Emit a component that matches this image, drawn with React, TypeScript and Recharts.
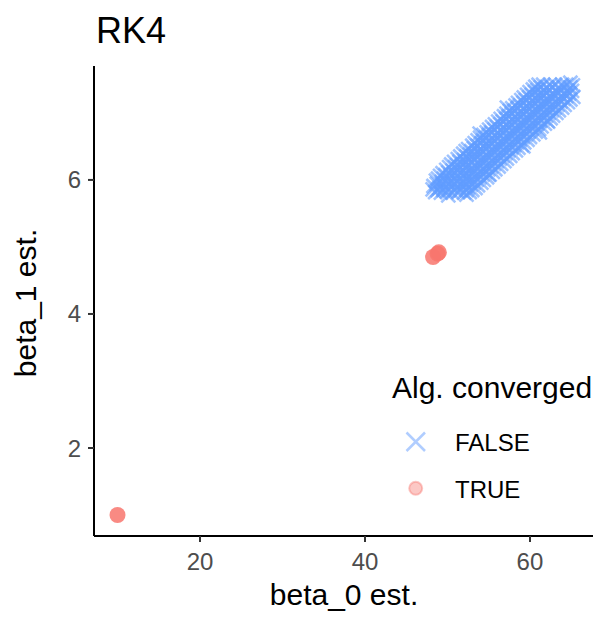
import React from 'react';
import { ScatterChart, Scatter, XAxis, YAxis } from 'recharts';

// estimates for runs that did not converge (beta_0, beta_1)
const notConverged: [number, number][] = [
  [48.5, 5.82], [48.3, 5.91], [48.6, 5.99],
  [49.2, 5.81], [49.0, 5.88], [49.3, 5.97], [49.1, 6.06],
  [49.9, 5.83], [49.7, 5.9], [49.95, 5.99], [49.75, 6.07], [49.85, 6.15],
  [50.6, 5.81], [50.4, 5.9], [50.55, 5.98], [50.35, 6.07], [50.6, 6.14], [50.45, 6.23],
  [51.3, 5.82], [51.1, 5.89], [51.25, 5.98], [51.05, 6.06], [51.3, 6.15], [51.15, 6.22], [51.25, 6.31],
  [52.0, 5.81], [51.8, 5.9], [52.05, 5.97], [51.85, 6.07], [51.95, 6.14], [51.8, 6.23], [52.0, 6.3], [51.9, 6.39],
  [52.7, 5.82], [52.5, 5.89], [52.65, 5.98], [52.55, 6.05], [52.75, 6.14], [52.45, 6.22], [52.6, 6.31], [52.7, 6.38], [52.5, 6.46],
  [53.4, 5.88], [53.2, 5.96], [53.35, 6.05], [53.15, 6.13], [53.4, 6.21], [53.25, 6.3], [53.35, 6.38], [53.2, 6.47], [53.3, 6.55],
  [54.1, 5.96], [53.9, 6.04], [54.05, 6.13], [53.95, 6.2], [54.15, 6.3], [53.85, 6.38], [54.0, 6.46], [54.1, 6.55], [53.95, 6.63],
  [54.8, 6.04], [54.6, 6.12], [54.75, 6.21], [54.55, 6.29], [54.8, 6.37], [54.65, 6.46], [54.7, 6.54], [54.6, 6.63], [54.75, 6.71],
  [55.5, 6.12], [55.3, 6.2], [55.45, 6.29], [55.25, 6.37], [55.5, 6.45], [55.35, 6.54], [55.45, 6.62], [55.3, 6.71], [55.4, 6.79],
  [56.2, 6.2], [56.0, 6.28], [56.15, 6.37], [55.95, 6.45], [56.2, 6.53], [56.05, 6.62], [56.1, 6.7], [56.0, 6.79], [56.15, 6.87],
  [56.9, 6.28], [56.7, 6.36], [56.85, 6.45], [56.65, 6.53], [56.9, 6.61], [56.75, 6.7], [56.8, 6.78], [56.7, 6.87], [56.85, 6.95],
  [57.6, 6.36], [57.4, 6.44], [57.55, 6.53], [57.35, 6.61], [57.6, 6.69], [57.45, 6.78], [57.5, 6.86], [57.4, 6.95], [57.55, 7.03],
  [58.3, 6.44], [58.1, 6.52], [58.25, 6.61], [58.05, 6.69], [58.3, 6.77], [58.15, 6.86], [58.2, 6.94], [58.1, 7.03], [58.25, 7.11],
  [59.0, 6.52], [58.8, 6.6], [58.95, 6.69], [58.75, 6.77], [59.0, 6.85], [58.85, 6.94], [58.9, 7.02], [58.8, 7.11], [58.95, 7.19],
  [59.7, 6.6], [59.5, 6.68], [59.65, 6.77], [59.45, 6.85], [59.7, 6.93], [59.55, 7.02], [59.6, 7.1], [59.5, 7.19], [59.65, 7.27],
  [60.4, 6.68], [60.2, 6.76], [60.35, 6.85], [60.15, 6.93], [60.4, 7.01], [60.25, 7.1], [60.3, 7.18], [60.2, 7.27], [60.35, 7.35],
  [61.1, 6.76], [60.9, 6.84], [61.05, 6.93], [60.85, 7.01], [61.1, 7.09], [60.95, 7.18], [61.0, 7.26], [60.9, 7.34], [61.05, 7.42],
  [61.8, 6.84], [61.6, 6.92], [61.75, 7.01], [61.55, 7.09], [61.8, 7.17], [61.65, 7.25], [61.7, 7.34], [61.6, 7.42],
  [62.5, 6.92], [62.3, 7.0], [62.45, 7.09], [62.25, 7.17], [62.5, 7.25], [62.35, 7.34], [62.4, 7.42],
  [63.2, 7.0], [63.0, 7.08], [63.15, 7.17], [62.95, 7.25], [63.2, 7.33], [63.05, 7.42],
  [63.9, 7.08], [63.7, 7.17], [63.85, 7.25], [63.65, 7.34], [63.9, 7.42],
  [64.6, 7.16], [64.4, 7.25], [64.55, 7.33], [64.4, 7.42],
  [65.25, 7.24], [65.1, 7.33], [65.2, 7.41],
  // second, staggered batch of runs
  [48.8, 5.85], [48.7, 5.94], [48.85, 6.02],
  [49.5, 5.85], [49.35, 5.94], [49.55, 6.02], [49.4, 6.1],
  [50.2, 5.85], [50.05, 5.94], [50.25, 6.02], [50.1, 6.11], [50.2, 6.19],
  [50.9, 5.85], [50.75, 5.94], [50.95, 6.02], [50.8, 6.1], [50.9, 6.19], [50.8, 6.27],
  [51.6, 5.85], [51.45, 5.94], [51.65, 6.02], [51.5, 6.1], [51.6, 6.19], [51.45, 6.27], [51.55, 6.35],
  [52.3, 5.85], [52.15, 5.94], [52.35, 6.02], [52.2, 6.1], [52.3, 6.19], [52.15, 6.27], [52.3, 6.35], [52.2, 6.43],
  [53.0, 5.85], [52.85, 5.93], [53.05, 6.01], [52.9, 6.09], [53.0, 6.18], [52.85, 6.26], [53.0, 6.35], [52.9, 6.43], [53.0, 6.51],
  [53.7, 5.92], [53.55, 6.0], [53.75, 6.09], [53.6, 6.17], [53.7, 6.26], [53.55, 6.34], [53.7, 6.43], [53.6, 6.51], [53.65, 6.59],
  [54.4, 6.0], [54.25, 6.08], [54.45, 6.17], [54.3, 6.25], [54.4, 6.34], [54.25, 6.42], [54.4, 6.51], [54.3, 6.59], [54.35, 6.67],
  [55.1, 6.08], [54.95, 6.16], [55.15, 6.25], [55.0, 6.33], [55.1, 6.42], [54.95, 6.5], [55.1, 6.59], [55.0, 6.67], [55.05, 6.75],
  [55.8, 6.16], [55.65, 6.24], [55.85, 6.33], [55.7, 6.41], [55.8, 6.5], [55.65, 6.58], [55.8, 6.67], [55.7, 6.75], [55.75, 6.83],
  [56.5, 6.24], [56.35, 6.32], [56.55, 6.41], [56.4, 6.49], [56.5, 6.58], [56.35, 6.66], [56.5, 6.75], [56.4, 6.83], [56.45, 6.91],
  [57.2, 6.32], [57.05, 6.4], [57.25, 6.49], [57.1, 6.57], [57.2, 6.66], [57.05, 6.74], [57.2, 6.83], [57.1, 6.91], [57.15, 6.99],
  [57.9, 6.4], [57.75, 6.48], [57.95, 6.57], [57.8, 6.65], [57.9, 6.74], [57.75, 6.82], [57.9, 6.91], [57.8, 6.99], [57.85, 7.07],
  [58.6, 6.48], [58.45, 6.56], [58.65, 6.65], [58.5, 6.73], [58.6, 6.82], [58.45, 6.9], [58.6, 6.99], [58.5, 7.07], [58.55, 7.15],
  [59.3, 6.56], [59.15, 6.64], [59.35, 6.73], [59.2, 6.81], [59.3, 6.9], [59.15, 6.98], [59.3, 7.07], [59.2, 7.15], [59.25, 7.23],
  [60.0, 6.64], [59.85, 6.72], [60.05, 6.81], [59.9, 6.89], [60.0, 6.98], [59.85, 7.06], [60.0, 7.15], [59.9, 7.23], [59.95, 7.31],
  [60.7, 6.72], [60.55, 6.8], [60.75, 6.89], [60.6, 6.97], [60.7, 7.06], [60.55, 7.14], [60.7, 7.23], [60.6, 7.31], [60.65, 7.39],
  [61.4, 6.8], [61.25, 6.88], [61.45, 6.97], [61.3, 7.05], [61.4, 7.14], [61.25, 7.22], [61.4, 7.3], [61.3, 7.38],
  [62.1, 6.88], [61.95, 6.96], [62.15, 7.05], [62.0, 7.13], [62.1, 7.21], [61.95, 7.3], [62.05, 7.38],
  [62.8, 6.96], [62.65, 7.04], [62.85, 7.13], [62.7, 7.21], [62.8, 7.29], [62.7, 7.38],
  [63.5, 7.04], [63.35, 7.12], [63.55, 7.21], [63.4, 7.29], [63.5, 7.38],
  [64.2, 7.12], [64.05, 7.21], [64.25, 7.29], [64.1, 7.38],
  [64.9, 7.2], [64.75, 7.29], [64.9, 7.38],
  // stragglers along the edges
  [48.2, 5.86], [50.1, 5.77], [52.3, 5.78], [53.9, 6.69], [59.2, 6.5],
  [61.2, 6.71], [62.2, 6.87], [57.2, 7.08], [64.9, 7.45], [55.0, 6.08],
];

// estimates for runs that converged
const converged: [number, number][] = [
  [10.0, 1.0],
  [48.25, 4.85],
  [48.8, 4.9],
  [48.95, 4.92],
];

const xTicks = [20, 40, 60];
const yTicks = [2, 4, 6];
const xDomain: [number, number] = [7.15, 67.64];
const yDomain: [number, number] = [0.687, 7.7];

const BLUE = '#619CFF';
const RED = '#F8766D';
const FONT = '"Liberation Sans", Arial, Helvetica, sans-serif';

const toRows = (pts: [number, number][]) => pts.map(([b0, b1]) => ({ b0, b1 }));

const CrossMark = (props: any) => {
  const { cx, cy } = props;
  const s = 7;
  return (
    <path
      d={`M${cx - s},${cy - s}L${cx + s},${cy + s}M${cx - s},${cy + s}L${cx + s},${cy - s}`}
      stroke={BLUE}
      strokeWidth={2.6}
      strokeOpacity={0.6}
      fill="none"
    />
  );
};

const DotMark = (props: any) => {
  const { cx, cy } = props;
  return <circle cx={cx} cy={cy} r={8} fill={RED} fillOpacity={0.85} />;
};

document.body.style.margin = '0';

export default function App() {
  return (
    <div style={{ position: 'relative', width: 602, height: 619, background: '#fff', fontFamily: FONT }}>
      <ScatterChart width={602} height={619} margin={{ top: 66, right: 9, bottom: 43, left: 0 }}>
        <XAxis
          type="number"
          dataKey="b0"
          domain={xDomain}
          ticks={xTicks}
          allowDataOverflow
          height={40}
          tickSize={6}
          tickMargin={11}
          axisLine={{ stroke: '#000', strokeWidth: 2 }}
          tickLine={{ stroke: '#333', strokeWidth: 2 }}
          tick={{ fill: '#4D4D4D', fontSize: 24, fontFamily: FONT }}
        />
        <YAxis
          type="number"
          dataKey="b1"
          domain={yDomain}
          ticks={yTicks}
          allowDataOverflow
          width={94}
          tickSize={6}
          tickMargin={7}
          axisLine={{ stroke: '#000', strokeWidth: 2 }}
          tickLine={{ stroke: '#333', strokeWidth: 2 }}
          tick={{ fill: '#4D4D4D', fontSize: 24, fontFamily: FONT }}
        />
        <Scatter data={toRows(notConverged)} shape={CrossMark} isAnimationActive={false} />
        <Scatter data={toRows(converged)} shape={DotMark} isAnimationActive={false} />
      </ScatterChart>

      <svg width={602} height={619} style={{ position: 'absolute', left: 0, top: 0, pointerEvents: 'none' }}>
        <text x={96} y={43} fontSize={36} fill="#000" fontFamily={FONT}>RK4</text>
        <text x={344} y={605} fontSize={30} fill="#000" textAnchor="middle" fontFamily={FONT}>beta_0 est.</text>
        <text x={36} y={303} fontSize={30} fill="#000" textAnchor="middle" fontFamily={FONT} transform="rotate(-90, 36, 303)">
          beta_1 est.
        </text>

        {/* legend */}
        <text x={392} y={398} fontSize={30} fill="#000" fontFamily={FONT}>Alg. converged</text>
        <path
          d="M406.5,432.5L425,451M406.5,451L425,432.5"
          stroke={BLUE}
          strokeWidth={2.5}
          strokeOpacity={0.5}
          fill="none"
        />
        <text x={455} y={451} fontSize={24} fill="#000" fontFamily={FONT}>FALSE</text>
        <circle cx={415.7} cy={488.3} r={6.5} fill={RED} fillOpacity={0.4} stroke={RED} strokeOpacity={0.4} strokeWidth={2} />
        <text x={455} y={498} fontSize={24} fill="#000" fontFamily={FONT}>TRUE</text>
      </svg>
    </div>
  );
}
